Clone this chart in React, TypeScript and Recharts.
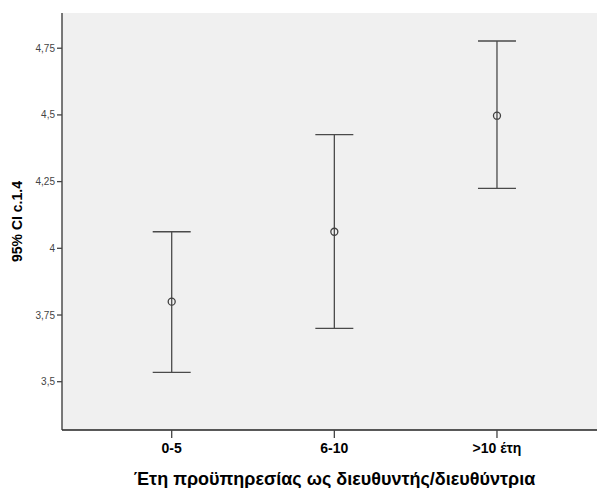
import React from 'react';
import { ComposedChart, Scatter, XAxis, YAxis, ErrorBar, CartesianGrid, Label } from 'recharts';

const categories = ['0-5', '6-10', '>10 έτη'];
const means = [3.8, 4.062, 4.497];
const lowerCI = [3.535, 3.7, 4.225];
const upperCI = [4.062, 4.426, 4.777];
const yTicks = [3.5, 3.75, 4, 4.25, 4.5, 4.75];

const data = categories.map((c, i) => ({
  x: i + 1,
  name: c,
  mean: means[i],
  err: [means[i] - lowerCI[i], upperCI[i] - means[i]],
}));

const Dot = (props: any) => {
  const { cx, cy } = props;
  return <circle cx={cx} cy={cy} r={3.5} fill="none" stroke="#404040" strokeWidth={1.3} />;
};

const FONT = 'Liberation Sans, Arial, sans-serif';

export default function App() {
  return (
    <div style={{ position: 'absolute', left: 0, top: 0, background: '#fff' }}>
      <ComposedChart width={597} height={488} data={data} margin={{ top: 13, right: 0, bottom: 0, left: 0 }}>
        <CartesianGrid fill="#f0f0f0" horizontal={false} vertical={false} />
        <XAxis
          xAxisId="top"
          orientation="top"
          type="number"
          dataKey="x"
          domain={[0.3255, 3.615]}
          tick={false}
          tickLine={false}
          height={0}
          axisLine={{ stroke: '#808080', strokeWidth: 1.5 }}
        />
        <XAxis
          type="number"
          dataKey="x"
          domain={[0.3255, 3.615]}
          ticks={[1, 2, 3]}
          tickFormatter={(v: number) => categories[v - 1] ?? ''}
          tickSize={8}
          tickMargin={5}
          height={58}
          interval={0}
          allowDataOverflow
          axisLine={{ stroke: '#222', strokeWidth: 1.3 }}
          tickLine={{ stroke: '#444', strokeWidth: 1.3 }}
          tick={{ fill: '#000', fontSize: 14, fontWeight: 'bold', fontFamily: FONT }}
        >
          <Label
            value="Έτη προϋπηρεσίας ως διευθυντής/διευθύντρια"
            position="insideBottom"
            offset={3}
            dx={5}
            style={{ fill: '#000', fontSize: 18, fontWeight: 'bold', fontFamily: FONT }}
          />
        </XAxis>
        <YAxis
          type="number"
          domain={[3.319, 4.882]}
          ticks={yTicks}
          allowDataOverflow
          width={62}
          tickSize={5}
          tickMargin={2}
          tickFormatter={(v: number) => String(v).replace('.', ',')}
          axisLine={{ stroke: '#333', strokeWidth: 1.3 }}
          tickLine={{ stroke: '#444', strokeWidth: 1.3 }}
          tick={{ fill: '#444', fontSize: 10, fontFamily: FONT }}
        >
          <Label
            value="95% CI c.1.4"
            angle={-90}
            position="insideLeft"
            offset={17}
            style={{ fill: '#000', fontSize: 14, fontWeight: 'bold', fontFamily: FONT, textAnchor: 'middle' }}
          />
        </YAxis>
        <Scatter dataKey="mean" isAnimationActive={false} shape={<Dot />}>
          <ErrorBar dataKey="err" direction="y" width={19} stroke="#4a4a4a" strokeWidth={1.3} />
        </Scatter>
      </ComposedChart>
    </div>
  );
}
